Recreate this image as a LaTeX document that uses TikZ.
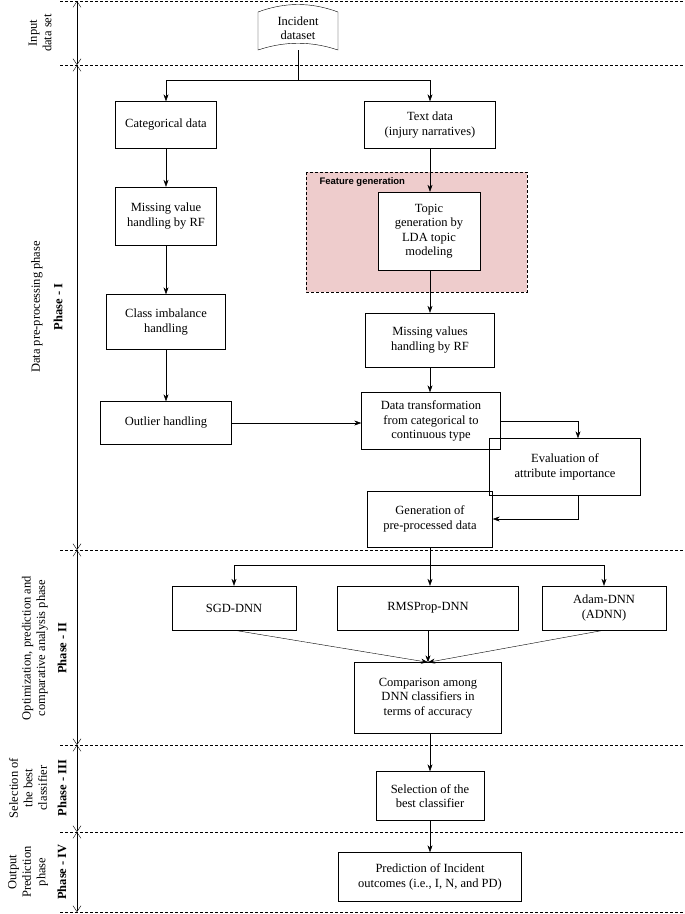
\documentclass[tikz,border=0pt]{standalone}
\usepackage{fontspec}
\setmainfont{Liberation Serif}
\newfontfamily\sansf{Liberation Sans}
\usetikzlibrary{arrows.meta}
\begin{document}
\begin{tikzpicture}[x=1pt,y=-1pt,font=\fontsize{12.5}{14.5}\selectfont,
 box/.style={draw,thin,align=center,inner sep=2pt},
 ar/.style={-{Stealth[length=7pt,width=5pt]},thin},
 ph/.style={{Straight Barb[length=6pt,width=8pt]}-{Straight Barb[length=6pt,width=8pt]},thin},
 dl/.style={densely dashed,thin},
 lab/.style={rotate=90,align=center,inner sep=0pt}]
\useasboundingbox (0,0) rectangle (685,914);
% phase lines
\foreach \y in {1,65,550,745,832,912} \draw[dl] (60,\y) -- (685,\y);
\coordinate (p0) at (77,1); \coordinate (p1) at (77,65); \coordinate (p2) at (77,550);
\coordinate (p3) at (77,745); \coordinate (p4) at (77,832); \coordinate (p5) at (77,912);
\draw[ph] (p0)--(p1); \draw[ph] (p1)--(p2); \draw[ph] (p2)--(p3); \draw[ph] (p3)--(p4); \draw[ph] (p4)--(p5);
\node[lab] (l0) at (40,33) {Input\\data set};
\node[lab] (l1) at (37,307) {Data pre-processing phase};
\node[lab,font=\fontsize{12.5}{14.5}\selectfont\bfseries] (l1b) at (58,307) {Phase - I};
\node[lab] (l2) at (35,648) {Optimization, prediction and\\comparative analysis phase};
\node[lab,font=\fontsize{12.5}{14.5}\selectfont\bfseries] (l2b) at (62,648) {Phase - II};
\node[lab] (l3) at (28,788) {Selection of\\the best\\classifier};
\node[lab,font=\fontsize{12.5}{14.5}\selectfont\bfseries] (l3b) at (62,788) {Phase - III};
\node[lab] (l4) at (28,872) {Output\\Prediction\\phase};
\node[lab,font=\fontsize{12.5}{14.5}\selectfont\bfseries] (l4b) at (62,872) {Phase - IV};
% feature generation background
\draw[dl,fill={rgb,255:red,238;green,204;blue,204}] (306,172) rectangle (527,292);
\node[font=\sansf\bfseries\fontsize{9.5}{11}\selectfont,anchor=west] (fg) at (316,182) {Feature generation};
% dataset
\draw[thin] (258,12) .. controls (285,2) and (311,2) .. (338,12) -- (338,50) .. controls (311,41) and (285,41) .. (258,50) -- cycle;
\node[align=center,inner sep=0pt,minimum width=80pt,minimum height=46pt] (ds) at (298,28) {Incident\\dataset};
\node[box,minimum width=101pt,minimum height=47pt] (cat) at (166,125) {Categorical data};
\node[box,minimum width=131pt,minimum height=47pt] (txt) at (430,125) {Text data\\(injury narratives)};
\node[box,fill=white,minimum width=102pt,minimum height=78pt] (top) at (429,231) {Topic\\generation by\\LDA topic\\modeling};
\node[box,minimum width=101pt,minimum height=58pt] (mv) at (166,216) {Missing value\\handling by RF};
\node[box,minimum width=119pt,minimum height=55pt] (ci) at (166,322) {Class imbalance\\handling};
\node[box,minimum width=131pt,minimum height=43pt] (oh) at (166,423) {Outlier handling};
\node[box,minimum width=129pt,minimum height=54pt] (mv2) at (430,340) {Missing values\\handling by RF};
\node[box,minimum width=139pt,minimum height=57pt] (dt) at (431,421) {Data transformation\\from categorical to\\continuous type};
\node[box,minimum width=151pt,minimum height=57pt] (ev) at (565,467) {Evaluation of\\attribute importance};
\node[box,minimum width=125pt,minimum height=56pt] (gen) at (430,519) {Generation of\\pre-processed data};
\node[box,minimum width=124pt,minimum height=44pt] (sgd) at (234,608) {SGD-DNN};
\node[box,minimum width=181pt,minimum height=44pt] (rms) at (428,608) {RMSProp-DNN};
\node[box,minimum width=124pt,minimum height=44pt] (adam) at (604,608) {Adam-DNN\\(ADNN)};
\node[box,minimum width=147pt,minimum height=71pt] (cmp) at (428,698) {Comparison among\\DNN classifiers in\\terms of accuracy};
\node[box,minimum width=108pt,minimum height=49pt] (sel) at (430,796) {Selection of the\\best classifier};
\node[box,minimum width=183pt,minimum height=49pt] (pred) at (430,877) {Prediction of Incident\\outcomes (i.e., I, N, and PD)};
% connectors
\coordinate (s1) at (298,80);
\draw[thin] (298,50) -- (s1);
\draw[ar] (s1) -| (cat.north);
\draw[ar] (s1) -| (txt.north);
\draw[ar] (cat) -- (mv);
\draw[ar] (mv) -- (ci);
\draw[ar] (ci) -- (oh);
\draw[ar] (txt.south) -- (txt.south |- top.north);
\draw[ar] (top.south -| mv2.north) -- (mv2.north);
\draw[ar] (mv2) -- (dt.north -| mv2.south);
\draw[ar] (oh.east) -- (dt.west |- oh.east);
\draw[ar] (dt.east) -| (ev.north -| 578,0);
\draw[ar] (ev.south -| 578,0) |- (gen.east);
\coordinate (s2) at (430,565);
\draw[thin] (gen.south) -- (s2);
\draw[ar] (s2) -| (sgd.north);
\draw[ar] (s2) -- (rms.north -| s2);
\draw[ar] (s2) -| (adam.north);
\draw[ar] (sgd.south) -- (cmp.north);
\draw[ar] (rms.south) -- (cmp.north);
\draw[ar] (adam.south) -- (cmp.north);
\draw[ar] (cmp.south -| sel.north) -- (sel.north);
\draw[ar] (sel) -- (pred);
\end{tikzpicture}
\end{document}
